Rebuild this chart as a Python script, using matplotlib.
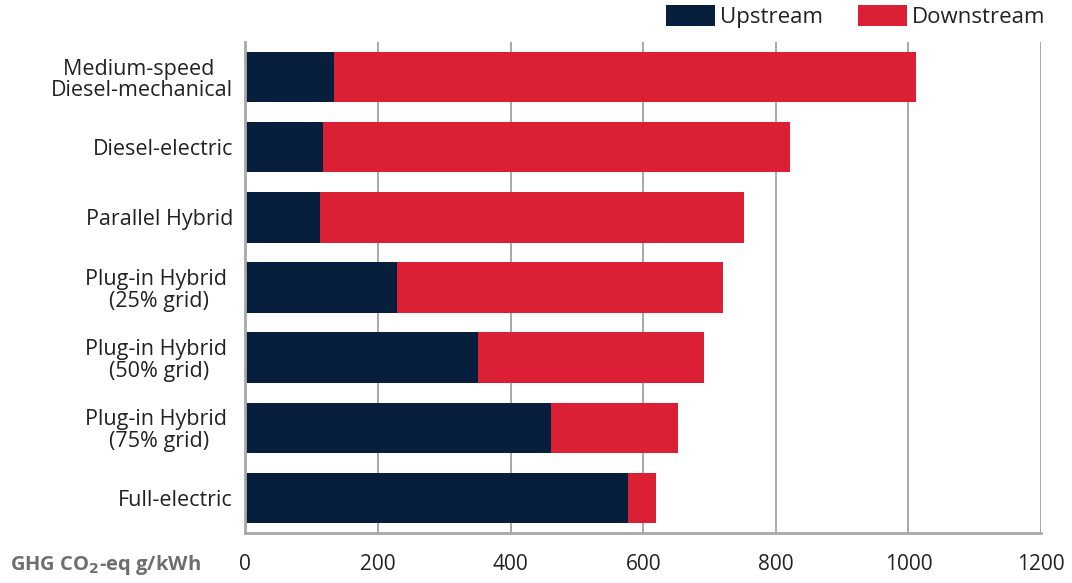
import matplotlib
matplotlib.use("Agg")
import matplotlib.pyplot as plt
from matplotlib.patches import Patch

plt.rcParams['font.family'] = ['Open Sans', 'DejaVu Sans']

categories = [
    "Medium-speed \nDiesel-mechanical",
    "Diesel-electric",
    "Parallel Hybrid",
    "Plug-in Hybrid \n(25% grid)",
    "Plug-in Hybrid \n(50% grid)",
    "Plug-in Hybrid \n(75% grid)",
    "Full-electric",
]
upstream = [133, 117, 113, 229, 351, 461, 577]
total = [1011, 821, 752, 720, 691, 652, 619]
downstream = [t - u for t, u in zip(total, upstream)]
xticks = [0, 200, 400, 600, 800, 1000, 1200]

NAVY = "#071F3D"
RED = "#DB2035"
GRID = "#A8A8A8"
TEXT = "#222222"

fig = plt.figure(figsize=(10.72, 5.83), dpi=100)
ax = fig.add_axes([245.4 / 1072, 50 / 583, (1041 - 245.4) / 1072, 491 / 583])

ypos = list(range(len(categories)))
ax.barh(ypos, upstream, height=0.72, color=NAVY, zorder=3)
ax.barh(ypos, downstream, left=upstream, height=0.72, color=RED, zorder=3)

ax.set_xlim(0, 1200)
ax.set_ylim(6.5, -0.5)
ax.set_xticks(xticks)
ax.set_xticklabels([str(v) for v in xticks])
ax.set_yticks(ypos)
ax.set_yticklabels(categories)
for lbl in ax.get_yticklabels():
    lbl.set_multialignment('center')
    lbl.set_linespacing(1.05)

ax.xaxis.grid(True, color=GRID, linewidth=1.4, zorder=0)
ax.set_axisbelow(True)
for s in ['top', 'right']:
    ax.spines[s].set_visible(False)
for s in ['left', 'bottom']:
    ax.spines[s].set_color(GRID)
    ax.spines[s].set_linewidth(2)
    ax.spines[s].set_zorder(4)

ax.tick_params(axis='x', length=0, pad=15, labelsize=15, labelcolor=TEXT)
ax.tick_params(axis='y', length=0, pad=9, labelsize=15.5, labelcolor=TEXT)

fig.text(10 / 1072, 1 - 565 / 583, r"GHG CO$_\mathbf{2}$-eq g/kWh", ha='left', va='center',
         fontsize=14.5, fontweight='bold', color="#6E6E6E")

handles = [Patch(facecolor=NAVY, label="Upstream"), Patch(facecolor=RED, label="Downstream")]
fig.legend(handles=handles, loc='upper right', bbox_to_anchor=(1045 / 1072, 1 - 5 / 583),
           frameon=False, ncol=2, fontsize=16, handlelength=2.2, handleheight=1.1,
           handletextpad=0.2, columnspacing=1.6, borderpad=0, borderaxespad=0,
           labelcolor=TEXT)

fig.savefig("out.png", dpi=100)
